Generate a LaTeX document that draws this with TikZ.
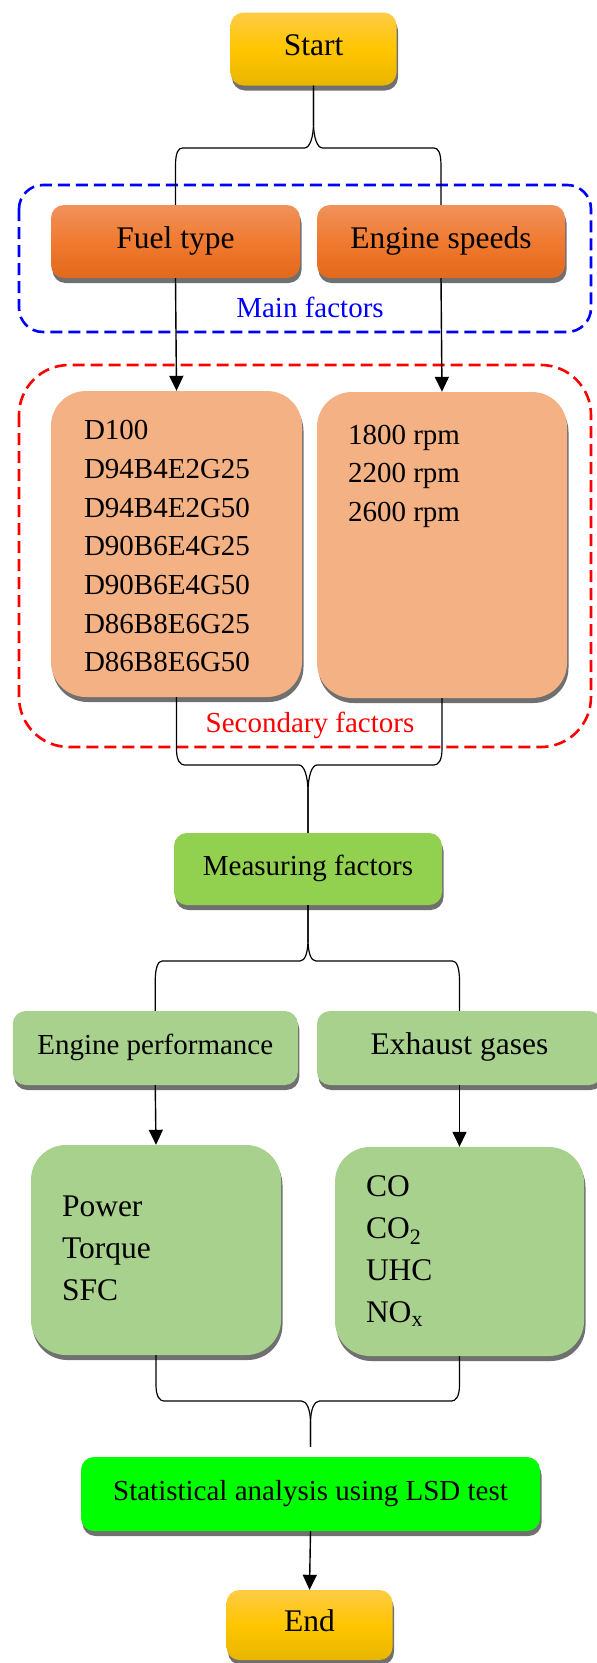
\documentclass[tikz,border=0pt]{standalone}
\usepackage{fontspec}
\setmainfont{Liberation Serif}
\usetikzlibrary{arrows.meta}
\usetikzlibrary{calc,positioning,shadows}

\definecolor{goldtop}{HTML}{FFCB45}
\definecolor{goldmid}{HTML}{FFC600}
\definecolor{goldbot}{HTML}{E8B500}
\definecolor{orangetop}{HTML}{F0925C}
\definecolor{orangemid}{HTML}{F07A30}
\definecolor{orangebot}{HTML}{E2691C}
\definecolor{peach}{HTML}{F4B183}
\definecolor{leaf}{HTML}{92D050}
\definecolor{sage}{HTML}{A9D18E}
\definecolor{statgreen}{HTML}{00FF00}

\begin{document}
\begin{tikzpicture}[x=1pt, y=1pt]

		\tikzstyle{bigfont} = [font=\fontsize{31.5}{42}\selectfont]
		\tikzstyle{smallfont} = [font=\fontsize{29}{38.7}\selectfont]
		\tikzstyle{flowbox} = [rounded corners=13pt, inner sep=0pt, minimum height=73pt, text height=22pt, text depth=9pt,
			drop shadow={shadow xshift=1.5pt, shadow yshift=-5pt, fill=black!75, opacity=.75}]
		\tikzstyle{listbox} = [flowbox, rounded corners=35pt]
		\tikzstyle{listtext} = [align=left, inner sep=0pt]
		\tikzstyle{terminal} = [flowbox, bigfont, minimum width=166pt, top color=goldtop, bottom color=goldbot, middle color=goldmid]
		\tikzstyle{mainfactor} = [flowbox, bigfont, minimum width=249pt, top color=orangetop, bottom color=orangebot, middle color=orangemid]
		\tikzstyle{arrowline} = [line width=1.4pt, -{Triangle[length=15pt, width=14pt]}]
		\tikzstyle{splitline} = [line width=1.2pt]
		\tikzstyle{groupframe} = [line width=2.6pt, dash pattern=on 12pt off 6pt]

		\useasboundingbox (0,0) rectangle (597,-1663);
		\clip (0,0) rectangle (597,-1663);

		% dashed frames round the two groups of factors
		\draw[groupframe, blue, rounded corners=24pt] (19,-185) rectangle (591,-332);
		\draw[groupframe, red, rounded corners=50pt] (19,-365) rectangle (591,-747);

		\node[terminal](start) at (313.5,-49){Start};

		\node[mainfactor](fuel) at (175.5,-241.5){Fuel type};
		\node[mainfactor, minimum width=248pt](speeds) at (441,-241.5){Engine speeds};
		\node[smallfont, text=blue](mainlabel) at (310,-307){Main factors};

		\node[listbox, fill=peach, minimum width=251pt, minimum height=306pt](fuels) at (176.5,-544){};
		\node[listbox, fill=peach, minimum width=250pt, minimum height=306pt](rpms) at (442,-545){};
		\node[listtext, smallfont, below right=29.5pt and 33pt of fuels.north west](fuelnames)
			{D100\\D94B4E2G25\\D94B4E2G50\\D90B6E4G25\\D90B6E4G50\\D86B8E6G25\\D86B8E6G50};
		\node[listtext, smallfont, below right=33pt and 31pt of rpms.north west](rpmvalues)
			{1800 rpm\\2200 rpm\\2600 rpm};
		\node[smallfont, text=red](seclabel) at (310,-725){Secondary factors};

		\node[flowbox, smallfont, fill=leaf, minimum width=268pt, minimum height=72pt](measuring) at (308,-869){Measuring factors};

		\node[flowbox, smallfont, fill=sage, minimum width=285pt, minimum height=74pt](performance) at (155.25,-1048){Engine performance};
		\node[flowbox, bigfont, fill=sage, minimum width=285pt, minimum height=74pt](exhaust) at (459.5,-1048){Exhaust gases};

		\node[listbox, fill=sage, minimum width=250pt, minimum height=210pt](perfbox) at (156,-1250){};
		\node[listbox, fill=sage, minimum width=249pt, minimum height=209pt](gasbox) at (459.5,-1251.5){};
		\node[listtext, bigfont, below right=51pt and 31pt of perfbox.north west](perfitems)
			{Power\\Torque\\SFC};
		\node[listtext, bigfont, below right=29pt and 31pt of gasbox.north west](gasitems)
			{CO\\CO\textsubscript{2}\\UHC\\NO\textsubscript{x}};

		\node[flowbox, smallfont, fill=statgreen, minimum width=459pt, minimum height=74pt](stats) at (310.5,-1494){Statistical analysis using LSD test};
		\node[terminal, minimum height=70pt](finish) at (309.5,-1625){End};

		% where the brackets meet
		\coordinate (split1) at (start.south |- 0,-148);
		\coordinate (join1) at (measuring.north |- 0,-765);
		\coordinate (split2) at (measuring.south |- 0,-961);
		\coordinate (join2) at (stats.north |- 0,-1401);

		\foreach \side/\dir in {fuel/-1, speeds/1}
			\draw[splitline] (start.south) -- ($(split1)+(0,25)$)
				.. controls +(0,-15) and +({-5*(\dir)},0) .. ($(split1)+({9*(\dir)},0)$)
				-- ($(\side.north |- split1)+({-7*(\dir)},0)$)
				.. controls +({4*(\dir)},0) and +(0,14) .. ($(\side.north |- split1)+(0,-18)$)
				-- (\side.north);

		\foreach \side/\dir in {fuels/-1, rpms/1}
			\draw[splitline] (\side.south) -- ($(\side.south |- join1)+(0,16)$)
				.. controls +(0,-12) and +({4*(\dir)},0) .. ($(\side.south |- join1)+({-8*(\dir)},0)$)
				-- ($(join1)+({9*(\dir)},0)$)
				.. controls +({-5*(\dir)},0) and +(0,16) .. ($(join1)+(0,-27)$)
				-- (measuring.north);

		\foreach \side/\dir in {performance/-1, exhaust/1}
			\draw[splitline] (measuring.south) -- ($(split2)+(0,22)$)
				.. controls +(0,-14) and +({-5*(\dir)},0) .. ($(split2)+({8*(\dir)},0)$)
				-- ($(\side.north |- split2)+({-7*(\dir)},0)$)
				.. controls +({4*(\dir)},0) and +(0,14) .. ($(\side.north |- split2)+(0,-20)$)
				-- (\side.north);

		\foreach \side/\dir in {perfbox/-1, gasbox/1}
			\draw[splitline, shorten >=10pt] (\side.south) -- ($(\side.south |- join2)+(0,16)$)
				.. controls +(0,-12) and +({4*(\dir)},0) .. ($(\side.south |- join2)+({-8*(\dir)},0)$)
				-- ($(join2)+({9*(\dir)},0)$)
				.. controls +({-5*(\dir)},0) and +(0,14) .. ($(join2)+(0,-22)$)
				-- (stats.north);

		\draw[arrowline] (fuel.south) -- (fuels.north);
		\draw[arrowline] (speeds.south) -- (rpms.north);
		\draw[arrowline] (performance.south) -- (perfbox.north);
		\draw[arrowline] (exhaust.south) -- (gasbox.north);
		\draw[arrowline] (stats.south) -- (finish.north);

  \end{tikzpicture}
\end{document}
